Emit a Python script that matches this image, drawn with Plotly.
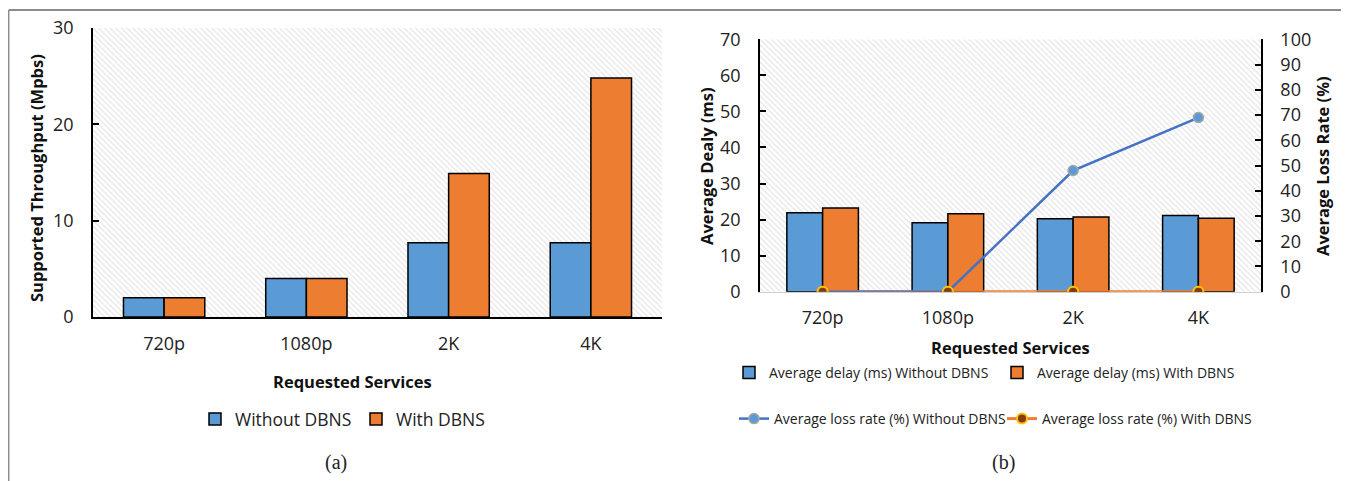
import plotly.graph_objects as go

# ---------------- data ----------------
categories = ["720p", "1080p", "2K", "4K"]
throughput_without = [2.0, 4.0, 7.7, 7.7]
throughput_with = [2.0, 4.0, 14.9, 24.8]
delay_without = [21.9, 19.1, 20.2, 21.1]
delay_with = [23.2, 21.6, 20.7, 20.4]
loss_without = [0, 0, 48, 69]
loss_with = [0, 0, 0, 0]
throughput_range = [0, 30]
delay_range = [0, 70]
loss_range = [0, 100]

# ---------------- style ----------------
W, H = 1349, 481
OFF = 8  # default page body margin
FONT = "Open Sans, Lato, sans-serif"
SERIF = "Liberation Serif, Times New Roman, serif"
BLUE = "#5B9BD5"
ORANGE = "#ED7D31"
LBLUE = "#4472C4"
GRID = "#e3e3e3"
TXT = "#222222"
BW = 1 / 3.5  # Excel gap width 150%


def px(x):
    return (x - OFF) / W


def py(y):
    return 1 - (y - OFF) / H


hatch = dict(shape="\\", fgcolor="#cbcbcb", bgcolor="white", size=4, solidity=0.3)

fig = go.Figure()

# ---- (a) background hatch ----
fig.add_trace(go.Bar(
    x=[categories[0]], y=[throughput_range[1]], offset=-0.5, width=len(categories),
    marker=dict(color="white", line_width=0, pattern=hatch),
    hoverinfo="skip", showlegend=False, xaxis="x", yaxis="y"))
fig.add_trace(go.Bar(
    x=categories, y=throughput_without, offset=-BW, width=BW, name="Without DBNS",
    marker=dict(color=BLUE, line=dict(color="black", width=1.5)),
    xaxis="x", yaxis="y", legend="legend3"))
fig.add_trace(go.Bar(
    x=categories, y=throughput_with, offset=0, width=BW, name="With DBNS",
    marker=dict(color=ORANGE, line=dict(color="black", width=1.5)),
    xaxis="x", yaxis="y", legend="legend3"))

# ---- (b) background hatch ----
fig.add_trace(go.Bar(
    x=[categories[0]], y=[delay_range[1]], offset=-0.5, width=len(categories),
    marker=dict(color="white", line_width=0, pattern=hatch),
    hoverinfo="skip", showlegend=False, xaxis="x2", yaxis="y2"))
fig.add_trace(go.Bar(
    x=categories, y=delay_without, offset=-BW, width=BW,
    name="Average delay (ms) Without DBNS",
    marker=dict(color=BLUE, line=dict(color="black", width=1.5)),
    xaxis="x2", yaxis="y2", legend="legend"))
fig.add_trace(go.Bar(
    x=categories, y=delay_with, offset=0, width=BW,
    name="Average delay (ms) With DBNS",
    marker=dict(color=ORANGE, line=dict(color="black", width=1.5)),
    xaxis="x2", yaxis="y2", legend="legend"))

orange_marker = dict(size=10, color="#843C0C", line=dict(color="#FFC000", width=2))
fig.add_trace(go.Scatter(
    x=categories, y=loss_with, mode="lines+markers",
    name="Average loss rate (%) With DBNS", legendrank=2,
    line=dict(color=ORANGE, width=3), marker=orange_marker,
    xaxis="x2", yaxis="y3", legend="legend2"))
fig.add_trace(go.Scatter(
    x=categories, y=loss_without, mode="lines+markers",
    name="Average loss rate (%) Without DBNS", legendrank=1,
    line=dict(color=LBLUE, width=2.5),
    marker=dict(size=10, color=BLUE, line=dict(color="#A5A5A5", width=1.5)),
    xaxis="x2", yaxis="y3", legend="legend2"))
fig.add_trace(go.Scatter(
    x=categories, y=loss_with, mode="markers", marker=orange_marker,
    showlegend=False, hoverinfo="skip", xaxis="x2", yaxis="y3"))

tickfont = dict(family=FONT, size=18, color=TXT)
xcommon = dict(type="category", categoryorder="array", categoryarray=categories,
               range=[-0.5, len(categories) - 0.5], showgrid=True, gridcolor=GRID,
               tickson="boundaries", ticks="", tickfont=tickfont, ticklabelstandoff=10,
               zeroline=False, fixedrange=True, automargin=False)
ycommon = dict(showline=True, linecolor="black", linewidth=1.5, ticks="inside",
               ticklen=6, tickwidth=1.5, tickcolor="black", tickfont=tickfont,
               gridcolor=GRID, zeroline=False, dtick=10, ticklabelstandoff=14,
               automargin=False, fixedrange=True)

fig.update_layout(
    width=W, height=H, autosize=False,
    margin=dict(l=0, r=0, t=0, b=0, pad=0, autoexpand=False),
    paper_bgcolor="white", plot_bgcolor="white",
    barmode="overlay",
    font=dict(family=FONT, color=TXT),
    xaxis=dict(xcommon, domain=[px(93), px(662)], anchor="y",
               showline=True, linecolor="black", linewidth=1.5),
    yaxis=dict(ycommon, domain=[py(317), py(28)], anchor="x", range=throughput_range),
    xaxis2=dict(xcommon, domain=[px(760), px(1261)], anchor="y2",
                showline=True, linecolor="#d0d0d0", linewidth=1),
    yaxis2=dict(ycommon, domain=[py(291.7), py(39.3)], anchor="x2", range=delay_range),
    yaxis3=dict(ycommon, overlaying="y2", side="right", anchor="x2",
                range=loss_range, showgrid=False),
    legend=dict(orientation="h", x=px(729), xanchor="left", y=py(373), yanchor="middle",
                font=dict(family=FONT, size=14, color=TXT),
                bgcolor="rgba(0,0,0,0)", entrywidth=223, traceorder="normal"),
    legend2=dict(orientation="h", x=px(734), xanchor="left", y=py(419), yanchor="middle",
                 font=dict(family=FONT, size=14, color=TXT),
                 bgcolor="rgba(0,0,0,0)", entrywidth=223, traceorder="normal"),
    legend3=dict(orientation="h", x=px(195), xanchor="left", y=py(419), yanchor="middle",
                 font=dict(family=FONT, size=17.5, color=TXT),
                 bgcolor="rgba(0,0,0,0)", entrywidth=116, traceorder="normal"),
    showlegend=True,
)

title_font = dict(family=FONT, size=16.5, color="#111111", weight=700)
annotations = [
    dict(text="Supported Throughput (Mpbs)", x=px(36), y=py(178), textangle=-90,
         font=title_font),
    dict(text="Requested Services", x=px(352), y=py(381), font=title_font),
    dict(text="Average Dealy (ms)", x=px(706), y=py(166), textangle=-90, font=title_font),
    dict(text="Average Loss Rate (%)", x=px(1322), y=py(166), textangle=-90,
         font=title_font),
    dict(text="Requested Services", x=px(1010), y=py(347), font=title_font),
    dict(text="(a)", x=px(336), y=py(462), font=dict(family=SERIF, size=20, color=TXT)),
    dict(text="(b)", x=px(1003), y=py(462), font=dict(family=SERIF, size=20, color=TXT)),
]
for a in annotations:
    a.update(xref="paper", yref="paper", showarrow=False, xanchor="center", yanchor="middle")
fig.update_layout(annotations=annotations)

# frame lines around the figure
fig.add_shape(type="line", xref="paper", yref="paper", x0=px(8.7), x1=1, y0=py(10), y1=py(10),
              line=dict(color="#8c8c8c", width=2))
fig.add_shape(type="line", xref="paper", yref="paper", x0=px(8.7), x1=px(8.7), y0=py(10),
              y1=0, line=dict(color="#8c8c8c", width=1.5))

fig.write_html("out.html", config={"displayModeBar": False})
